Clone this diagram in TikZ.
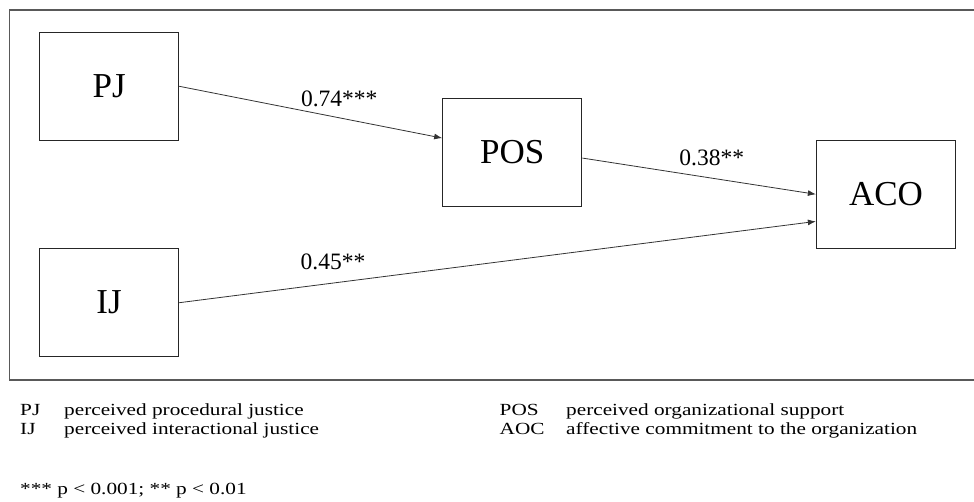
\documentclass[tikz,border=0pt]{standalone}
\usepackage{fontspec}
\setmainfont{Liberation Serif}
\newfontfamily\legendfont[FakeStretch=1.25]{Liberation Serif}
\usetikzlibrary{arrows.meta,calc}
\tikzset{
  varbox/.style={draw=black!85, line width=1.3pt, rectangle, minimum width=139pt, minimum height=108pt, inner sep=0pt, font=\fontsize{35}{40}\selectfont},
  pathline/.style={draw=black!80, line width=0.8pt, -{Latex[length=8pt,width=6pt]}},
  coef/.style={inner sep=0pt, font=\fontsize{23.5}{26}\selectfont},
  leg/.style={anchor=base west, inner sep=0pt, font=\legendfont\fontsize{17}{20}\selectfont},
  frameline/.style={draw=black!65, line width=1.4pt}
}
\begin{document}
\begin{tikzpicture}[x=1pt,y=-1pt]
\useasboundingbox (0,0) rectangle (974,502);
% outer frame (right side cut off)
\coordinate (ftr) at (975,10);
\coordinate (ftl) at (9.5,10);
\coordinate (fbl) at (9.5,380);
\coordinate (fbr) at (975,380);
\draw[frameline] (ftr) -- (ftl) -- (fbl) -- (fbr);
% variables
\node[varbox] (PJ) at (109.1,86.3) {PJ};
\node[varbox] (IJ) at (109.1,302.7) {IJ};
\node[varbox] (POS) at (512.3,152.5) {POS};
\node[varbox] (ACO) at (886,194.3) {ACO};
% paths
\draw[pathline] (PJ.east) -- ($(POS.north west)!0.368!(POS.south west)$);
\draw[pathline] ($(POS.north east)!0.551!(POS.south east)$) -- (ACO.west);
\draw[pathline] (IJ.east) -- ($(ACO.north west)!0.748!(ACO.south west)$);
% coefficients
\node[coef] (c1) at (339.3,99) {0.74***};
\node[coef] (c2) at (711.7,157.7) {0.38**};
\node[coef] (c3) at (333,262) {0.45**};
% legend
\node[leg] (l1a) at (20,415.5) {PJ};
\node[leg] (l1b) at (64,415.5) {perceived procedural justice};
\node[leg] (l2a) at (20,434.7) {IJ};
\node[leg] (l2b) at (64,434.7) {perceived interactional justice};
\node[leg] (l3a) at (499.5,415.5) {POS};
\node[leg] (l3b) at (566,415.5) {perceived organizational support};
\node[leg] (l4a) at (499.5,434.7) {AOC};
\node[leg] (l4b) at (566,434.7) {affective commitment to the organization};
\node[leg] (fn) at (20,494) {*** p < 0.001; ** p < 0.01};
\end{tikzpicture}
\end{document}
